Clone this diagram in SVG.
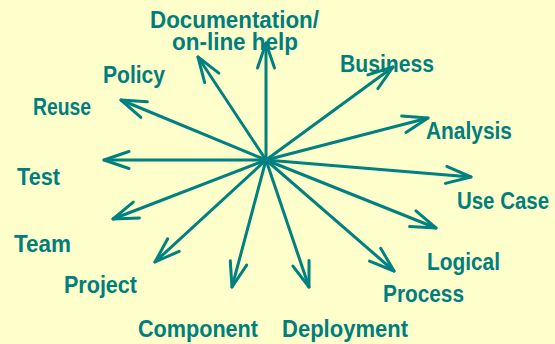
<svg xmlns="http://www.w3.org/2000/svg" width="555" height="344" viewBox="0 0 555 344">
  <style>
    .ray { stroke: #008080; stroke-width: 3; stroke-linecap: round; fill: none; marker-end: url(#vee); }
    .lbl { font-family: "Liberation Sans", Arial, sans-serif; font-weight: bold; font-size: 23px; fill: #007D7D; }
  </style>
  <defs>
    <marker id="vee" markerUnits="userSpaceOnUse" markerWidth="40" markerHeight="30" viewBox="-30 -15 40 30" refX="0" refY="0" orient="auto">
      <path d="M -25 -8.5 L 0 0 L -25 8.5" fill="none" stroke="#008080" stroke-width="3" stroke-linecap="round" stroke-linejoin="round"/>
    </marker>
  </defs>

  <rect width="555" height="344" fill="#FFFFCC"/>

  <!-- labels -->
  <g id="documentation">
    <text class="lbl"><tspan x="150" y="28" textLength="169" lengthAdjust="spacingAndGlyphs">Documentation/</tspan><tspan x="172" y="50" textLength="126" lengthAdjust="spacingAndGlyphs">on-line help</tspan></text>
  </g>
  <g id="policy"><text class="lbl" x="103" y="83" textLength="62" lengthAdjust="spacingAndGlyphs">Policy</text></g>
  <g id="reuse"><text class="lbl" x="33" y="115" textLength="58" lengthAdjust="spacingAndGlyphs">Reuse</text></g>
  <g id="test"><text class="lbl" x="17" y="185" textLength="43" lengthAdjust="spacingAndGlyphs">Test</text></g>
  <g id="team"><text class="lbl" x="14" y="252" textLength="57" lengthAdjust="spacingAndGlyphs">Team</text></g>
  <g id="project"><text class="lbl" x="64" y="293" textLength="73" lengthAdjust="spacingAndGlyphs">Project</text></g>
  <g id="component"><text class="lbl" x="138" y="337" textLength="120" lengthAdjust="spacingAndGlyphs">Component</text></g>
  <g id="deployment"><text class="lbl" x="282" y="337" textLength="126" lengthAdjust="spacingAndGlyphs">Deployment</text></g>
  <g id="process"><text class="lbl" x="383" y="302" textLength="81" lengthAdjust="spacingAndGlyphs">Process</text></g>
  <g id="logical"><text class="lbl" x="427" y="270" textLength="73" lengthAdjust="spacingAndGlyphs">Logical</text></g>
  <g id="usecase"><text class="lbl" x="457" y="209" textLength="92" lengthAdjust="spacingAndGlyphs">Use Case</text></g>
  <g id="analysis"><text class="lbl" x="426" y="139" textLength="86" lengthAdjust="spacingAndGlyphs">Analysis</text></g>
  <g id="business"><text class="lbl" x="340" y="72" textLength="94" lengthAdjust="spacingAndGlyphs">Business</text></g>

  <!-- rays from the common centre -->
  <g id="connectors">
    <line class="ray" x1="266" y1="160" x2="266" y2="43"/>
    <line class="ray" x1="266" y1="160" x2="198" y2="57"/>
    <line class="ray" x1="266" y1="160" x2="121" y2="100"/>
    <line class="ray" x1="266" y1="160" x2="104" y2="160"/>
    <line class="ray" x1="266" y1="160" x2="113" y2="219"/>
    <line class="ray" x1="266" y1="160" x2="155" y2="262"/>
    <line class="ray" x1="266" y1="160" x2="232" y2="287"/>
    <line class="ray" x1="266" y1="160" x2="309" y2="287"/>
    <line class="ray" x1="266" y1="160" x2="394" y2="271"/>
    <line class="ray" x1="266" y1="160" x2="436" y2="228"/>
    <line class="ray" x1="266" y1="160" x2="471" y2="177"/>
    <line class="ray" x1="266" y1="160" x2="428" y2="118"/>
    <line class="ray" x1="266" y1="160" x2="393" y2="67"/>
  </g>
</svg>
